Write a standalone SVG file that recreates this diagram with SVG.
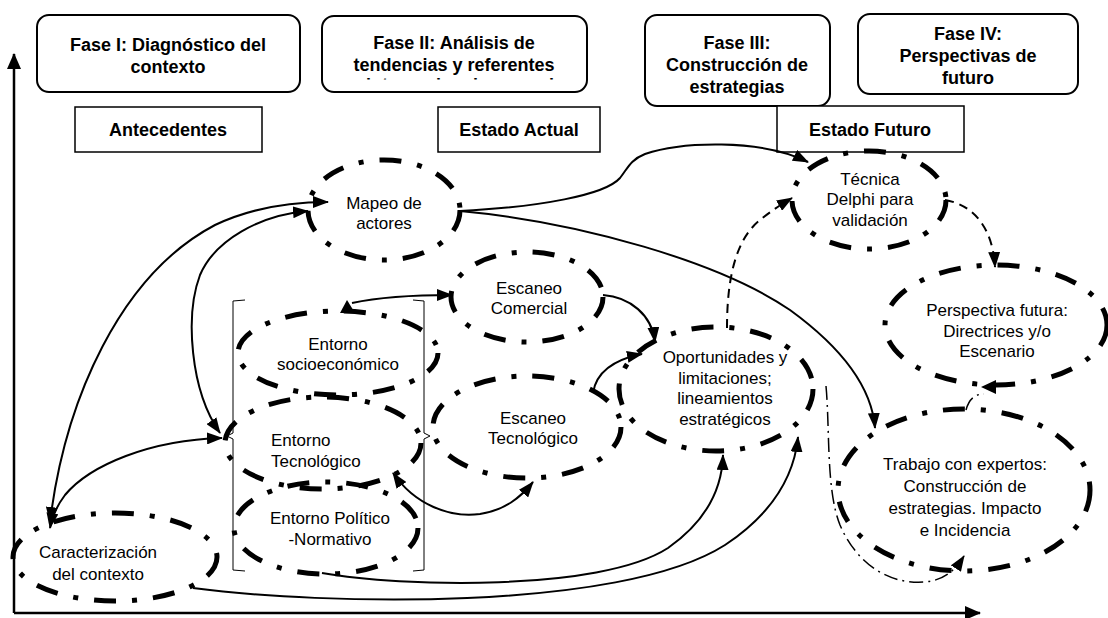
<svg xmlns="http://www.w3.org/2000/svg" width="1108" height="618" viewBox="0 0 1108 618">
  <style>
    .bg { fill: #ffffff; }
    .phase { fill: #ffffff; stroke: #000; stroke-width: 2; }
    .state { fill: #ffffff; stroke: #000; stroke-width: 1.5; }
    .ttl { font-family: "Liberation Sans", Arial, sans-serif; font-weight: bold; font-size: 18px; text-anchor: middle; fill: #000; }
    .lbl { font-family: "Liberation Sans", Arial, sans-serif; font-size: 17px; text-anchor: middle; fill: #000; }
    .lbl-l { font-family: "Liberation Sans", Arial, sans-serif; font-size: 17px; text-anchor: start; fill: #000; }
    .node { fill: none; stroke: #000; stroke-width: 5; stroke-dasharray: 22 16 5 16; }
    .con { fill: none; stroke: #000; stroke-width: 2; }
    .dash { stroke-dasharray: 9 6; }
    .dd { stroke-width: 1.5; stroke-dasharray: 14 5 2 5; }
    .axis { fill: none; stroke: #000; stroke-width: 2.5; }
    .brk { fill: none; stroke: #000; stroke-width: 1; }
    .head { fill: #000; stroke: none; }
  </style>
  <defs>
    <marker id="ah" viewBox="0 0 16 12" refX="15" refY="6" markerWidth="16" markerHeight="12" markerUnits="userSpaceOnUse" orient="auto-start-reverse">
      <path d="M0,0 L16,6 L0,12 z" fill="#000"/>
    </marker>
    <marker id="axh" viewBox="0 0 16 14" refX="15" refY="7" markerWidth="16" markerHeight="14" markerUnits="userSpaceOnUse" orient="auto">
      <path d="M0,0 L16,7 L0,14 z" fill="#000"/>
    </marker>
    <clipPath id="fase2clip">
      <rect x="326" y="18" width="254" height="61.5"/>
    </clipPath>
  </defs>

  <rect class="bg" x="0" y="0" width="1108" height="618"/>

  <!-- axes -->
  <g id="axes">
    <path class="axis" d="M14,613 L14,54" marker-end="url(#axh)"/>
    <path class="axis" d="M14,613 L980,613" marker-end="url(#axh)"/>
  </g>

  <!-- phase headers -->
  <g id="fase1">
    <rect class="phase" x="37" y="15" width="263" height="77" rx="12"/>
    <text class="ttl" x="168" y="51">Fase I: Diagnóstico del</text>
    <text class="ttl" x="168" y="73">contexto</text>
  </g>
  <g id="fase2">
    <rect class="phase" x="322" y="16" width="265" height="76" rx="12"/>
    <text class="ttl" x="454" y="49">Fase II: Análisis de</text>
    <text class="ttl" x="454" y="71">tendencias y referentes</text>
    <text class="ttl" x="366" y="91" clip-path="url(#fase2clip)" style="text-anchor:start">internacionales y nacionales</text>
  </g>
  <g id="fase3">
    <rect class="phase" x="645" y="15" width="185" height="91" rx="12"/>
    <text class="ttl" x="737" y="49">Fase III:</text>
    <text class="ttl" x="737" y="71">Construcción de</text>
    <text class="ttl" x="737" y="93">estrategias</text>
  </g>
  <g id="fase4">
    <rect class="phase" x="858" y="14" width="220" height="80" rx="12"/>
    <text class="ttl" x="968" y="40">Fase IV:</text>
    <text class="ttl" x="968" y="62">Perspectivas de</text>
    <text class="ttl" x="968" y="84">futuro</text>
  </g>

  <!-- state labels -->
  <g id="antecedentes">
    <rect class="state" x="75" y="107" width="187" height="45"/>
    <text class="ttl" x="168" y="136">Antecedentes</text>
  </g>
  <g id="estado-actual">
    <rect class="state" x="438" y="107" width="162" height="45"/>
    <text class="ttl" x="519" y="136">Estado Actual</text>
  </g>
  <g id="estado-futuro">
    <rect class="state" x="777" y="106" width="187" height="46"/>
    <text class="ttl" x="870" y="136">Estado Futuro</text>
  </g>

  <!-- bracket grouping the three environments -->
  <g id="entornos-bracket">
    <path class="brk" d="M245,300 L233,301 L233,433 L227,436 L233,439 L233,570 L245,571"/>
    <path class="brk" d="M413,300 L424,301 L424,433 L430,436 L424,439 L424,570 L413,571"/>
  </g>

  <!-- nodes -->
  <g id="mapeo">
    <ellipse class="node" cx="384" cy="210" rx="76" ry="50"/>
    <text class="lbl" x="384" y="209">Mapeo de</text>
    <text class="lbl" x="384" y="229">actores</text>
  </g>
  <g id="escaneo-comercial">
    <ellipse class="node" cx="527" cy="297" rx="76" ry="45"/>
    <text class="lbl" x="529" y="294">Escaneo</text>
    <text class="lbl" x="529" y="314">Comercial</text>
  </g>
  <g id="entorno-socio">
    <ellipse class="node" cx="338" cy="353" rx="100" ry="42"/>
    <text class="lbl" x="338" y="350">Entorno</text>
    <text class="lbl" x="338" y="370">socioeconómico</text>
  </g>
  <g id="entorno-tec">
    <ellipse class="node" cx="323" cy="443" rx="98" ry="46"/>
    <text class="lbl-l" x="271" y="446">Entorno</text>
    <text class="lbl-l" x="271" y="467">Tecnológico</text>
  </g>
  <g id="entorno-pol">
    <ellipse class="node" cx="326" cy="528" rx="92" ry="46"/>
    <text class="lbl" x="330" y="524">Entorno Político</text>
    <text class="lbl" x="330" y="545">-Normativo</text>
  </g>
  <g id="escaneo-tec">
    <ellipse class="node" cx="527" cy="427" rx="94" ry="51"/>
    <text class="lbl" x="533" y="424">Escaneo</text>
    <text class="lbl" x="533" y="444">Tecnológico</text>
  </g>
  <g id="oportunidades">
    <ellipse class="node" cx="716" cy="389" rx="97" ry="62"/>
    <text class="lbl" x="725" y="363">Oportunidades y</text>
    <text class="lbl" x="725" y="384">limitaciones;</text>
    <text class="lbl" x="725" y="404">lineamientos</text>
    <text class="lbl" x="725" y="425">estratégicos</text>
  </g>
  <g id="delphi">
    <ellipse class="node" cx="869" cy="200" rx="77" ry="49"/>
    <text class="lbl" x="870" y="185">Técnica</text>
    <text class="lbl" x="870" y="205">Delphi para</text>
    <text class="lbl" x="870" y="226">validación</text>
  </g>
  <g id="perspectiva">
    <ellipse class="node" cx="996" cy="325" rx="111" ry="60"/>
    <text class="lbl" x="997" y="316">Perspectiva futura:</text>
    <text class="lbl" x="997" y="337">Directrices y/o</text>
    <text class="lbl" x="997" y="357">Escenario</text>
  </g>
  <g id="trabajo">
    <ellipse class="node" cx="964" cy="490" rx="126" ry="81"/>
    <text class="lbl" x="965" y="470">Trabajo con expertos:</text>
    <text class="lbl" x="965" y="492">Construcción de</text>
    <text class="lbl" x="965" y="514">estrategias. Impacto</text>
    <text class="lbl" x="965" y="536">e Incidencia</text>
  </g>
  <g id="caracterizacion">
    <ellipse class="node" cx="115" cy="557" rx="102" ry="44"/>
    <text class="lbl" x="98" y="558">Caracterización</text>
    <text class="lbl" x="98" y="580">del contexto</text>
  </g>

  <!-- connectors -->
  <g id="connectors">
    <!-- Mapeo -> Delphi -->
    <path class="con" d="M460,211 C540,207 605,195 620,178 C628,168 630,160 645,154 C680,142 760,138 808,162" marker-end="url(#ah)"/>
    <!-- Mapeo -> Trabajo -->
    <path class="con" d="M460,211 C580,222 720,262 790,310 C845,350 872,390 875,428" marker-end="url(#ah)"/>
    <!-- Mapeo <-> Caracterizacion -->
    <path class="con" d="M50,522 C65,400 120,275 215,225 C255,206 295,202 328,202" marker-start="url(#ah)" marker-end="url(#ah)"/>
    <!-- Mapeo <-> entornos -->
    <path class="con" d="M308,211 C260,215 215,240 200,275 C185,315 190,390 220,433" marker-start="url(#ah)" marker-end="url(#ah)"/>
    <!-- entornos <-> Caracterizacion -->
    <path class="con" d="M222,438 C150,440 90,465 65,495 C56,507 52,516 50,528" marker-start="url(#ah)" marker-end="url(#ah)"/>
    <!-- socioeconomico <-> Comercial -->
    <path class="con" d="M352,303 C380,297 415,295 452,295" marker-end="url(#ah)"/>
    <polygon class="head" points="347,300 340,313 355,313"/>
    <!-- Comercial -> Oportunidades -->
    <path class="con" d="M603,295 C630,297 652,315 655,342" marker-end="url(#ah)"/>
    <!-- Escaneo Tecnologico -> Oportunidades -->
    <path class="con" d="M593,393 C596,373 612,360 642,354" marker-end="url(#ah)"/>
    <!-- Entorno Tecnologico <-> Escaneo Tecnologico -->
    <path class="con" d="M393,473 C415,505 450,518 480,514 C505,510 520,498 533,482" marker-start="url(#ah)" marker-end="url(#ah)"/>
    <!-- Politico -> Oportunidades -->
    <path class="con" d="M322,573 C400,587 600,592 668,548 C705,522 722,490 723,455" marker-end="url(#ah)"/>
    <!-- Caracterizacion -> Oportunidades -->
    <path class="con" d="M193,588 C320,605 620,612 725,545 C770,515 794,478 798,437" marker-end="url(#ah)"/>
    <!-- Oportunidades -> Delphi -->
    <path class="con dash" d="M727,328 C727,280 735,240 760,220 C770,212 780,205 792,198" marker-end="url(#ah)"/>
    <!-- Delphi -> Perspectiva -->
    <path class="con dash" d="M945,200 C975,205 993,230 995,267" marker-end="url(#ah)"/>
    <!-- Oportunidades -> Trabajo -->
    <path class="con dd" d="M826,386 C830,430 826,490 840,525 C855,560 885,585 925,582 C945,580 955,570 964,556" marker-end="url(#ah)"/>
    <!-- Trabajo -> Perspectiva -->
    <path class="con dd" d="M966,410 C969,399 975,394 984,394"/>
    <polygon class="head" points="981,387 996,380 996,394"/>
  </g>
</svg>
